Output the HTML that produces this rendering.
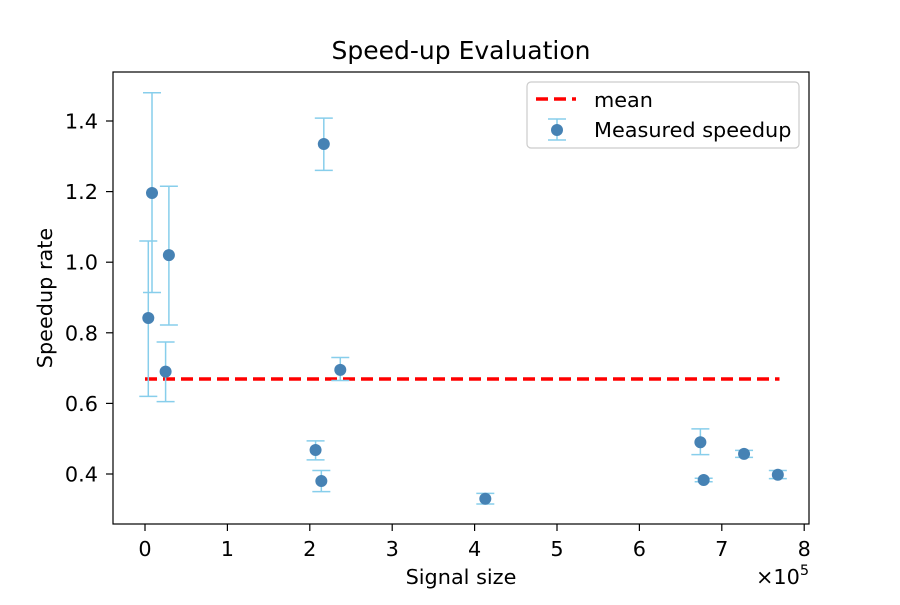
<!DOCTYPE html>
<html><head><meta charset="utf-8"><style>
body{margin:0;background:#fff;}
svg text{font-family:"DejaVu Sans","Liberation Sans",sans-serif;fill:#000;}
</style></head><body>
<svg id="chart" width="900" height="600" xmlns="http://www.w3.org/2000/svg">
<rect width="900" height="600" fill="#fff"/>
<text x="461" y="59" font-size="25" text-anchor="middle">Speed-up Evaluation</text>
<g id="plot"></g>
<rect x="113" y="72" width="696" height="452" fill="none" stroke="#000" stroke-width="1.2"/>
<text x="461" y="584" font-size="20.8" text-anchor="middle">Signal size</text>
<text x="756" y="584" font-size="20.8">×10<tspan dy="-9" font-size="14.5">5</tspan></text>
<text transform="translate(52,298) rotate(-90)" font-size="20.8" text-anchor="middle">Speedup rate</text>
<g>
<rect x="527" y="82" width="272" height="66" rx="4" fill="#fff" stroke="#ccc" stroke-width="1.2"/>
<line x1="536" y1="99" x2="576" y2="99" stroke="red" stroke-width="3.5" stroke-dasharray="12,6"/>
<text x="594" y="107" font-size="20.8">mean</text>
<line x1="557" y1="119" x2="557" y2="140" stroke="#87ceeb" stroke-width="1.5"/>
<line x1="548" y1="119" x2="566" y2="119" stroke="#87ceeb" stroke-width="1.5"/>
<line x1="548" y1="140" x2="566" y2="140" stroke="#87ceeb" stroke-width="1.5"/>
<circle cx="557" cy="130" r="6" fill="#4682b4"/>
<text x="594" y="137" font-size="20.8">Measured speedup</text>
</g>
</svg>
<script>
const xs=[0.04,0.085,0.25,0.29,2.07,2.14,2.17,2.37,4.13,6.74,6.78,7.27,7.68];
const ys=[0.842,1.196,0.69,1.02,0.468,0.38,1.335,0.695,0.33,0.49,0.383,0.457,0.398];
const errTop=[1.06,1.48,0.774,1.215,0.494,0.41,1.408,0.73,0.345,0.528,0.388,0.467,0.41];
const errBot=[0.62,0.914,0.605,0.822,0.44,0.35,1.26,0.665,0.315,0.455,0.378,0.447,0.387];
const meanVal=0.669;
const meanRange=[0,7.7];
const xTicks=[0,1,2,3,4,5,6,7,8];
const yTicks=[0.4,0.6,0.8,1.0,1.2,1.4];
const X=v=>145+v*82.4, Y=v=>474-(v-0.4)*353;
const NS="http://www.w3.org/2000/svg", g=document.getElementById('plot');
function mk(t,a){const e=document.createElementNS(NS,t);for(const k in a)e.setAttribute(k,a[k]);g.appendChild(e);return e;}
xTicks.forEach(t=>{
 const l=mk('line',{x1:X(t),x2:X(t),y1:524,y2:531,stroke:'#000','stroke-width':1.2});
 
 
 const tx=mk('text',{x:X(t),y:556,'font-size':20.8,'text-anchor':'middle'});tx.textContent=t;
 
 
});
yTicks.forEach(t=>{
 const l=mk('line',{x1:106,x2:113,y1:Y(t),y2:Y(t),stroke:'#000','stroke-width':1.2});
 
 
 const tx=mk('text',{x:98,y:Y(t)+7.5,'font-size':20.8,'text-anchor':'end'});tx.textContent=t.toFixed(1);
 
 
});
const m=mk('line',{x1:X(meanRange[0]),x2:X(meanRange[1]),y1:Y(meanVal),y2:Y(meanVal),stroke:'red','stroke-width':3.5,'stroke-dasharray':'12,6'});


xs.forEach((x,i)=>{
 const cx=X(x);
 [[cx,cx,Y(errTop[i]),Y(errBot[i])],[cx-9,cx+9,Y(errTop[i]),Y(errTop[i])],[cx-9,cx+9,Y(errBot[i]),Y(errBot[i])]].forEach(c=>{
  const l=mk('line',{x1:c[0],x2:c[1],y1:c[2],y2:c[3],stroke:'#87ceeb','stroke-width':1.5});
  
  
 });
 const p=mk('circle',{cx:cx,cy:Y(ys[i]),r:6,fill:'#4682b4'});
 
 
});
</script>
</body></html>
